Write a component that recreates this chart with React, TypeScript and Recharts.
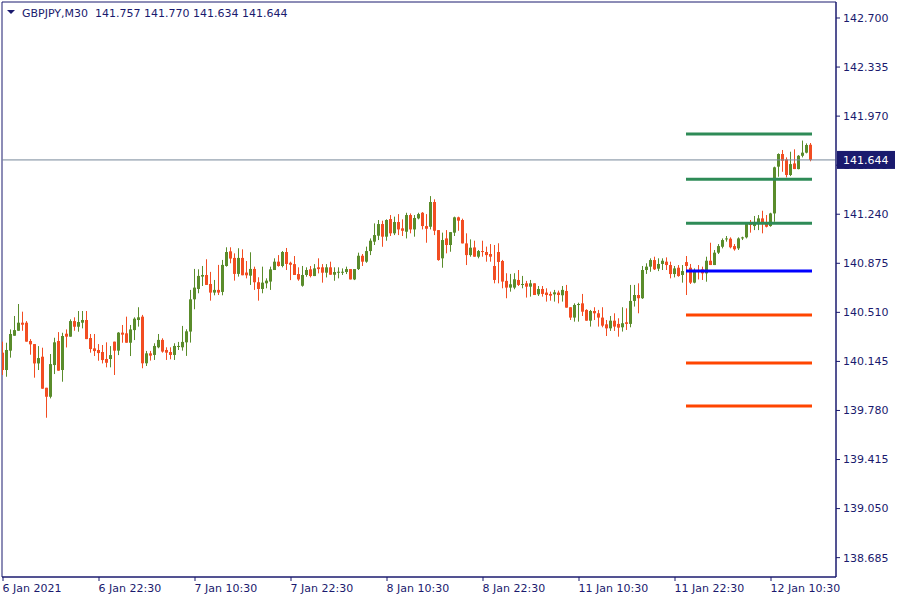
import React from 'react';
import { ComposedChart, Bar, XAxis, YAxis, ReferenceLine, ReferenceArea } from 'recharts';

// OHLC values of GBPJPY M30 candles (oldest first)
const opens = [
  140.210, 140.081, 140.225, 140.336, 140.373, 140.433, 140.433, 140.297, 140.274, 140.130,
  140.180, 139.949, 139.882, 140.118, 140.297, 140.081, 140.351, 140.329, 140.445, 140.403,
  140.433, 140.453, 140.319, 140.242, 140.230, 140.215, 140.163, 140.163, 140.292, 140.225,
  140.359, 140.354, 140.284, 140.378, 140.453, 140.478, 140.131, 140.205, 140.193, 140.250,
  140.305, 140.230, 140.215, 140.193, 140.255, 140.250, 140.287, 140.367, 140.607, 140.684,
  140.776, 140.788, 140.721, 140.657, 140.677, 140.662, 140.855, 140.964, 140.915, 140.796,
  140.915, 140.806, 140.783, 140.833, 140.734, 140.684, 140.726, 140.739, 140.825, 140.887,
  140.855, 140.959, 140.879, 140.869, 140.795, 140.708, 140.788, 140.830, 140.780, 140.845,
  140.845, 140.805, 140.845, 140.790, 140.810, 140.810, 140.810, 140.832, 140.755, 140.832,
  140.931, 140.887, 140.966, 141.036, 141.080, 141.167, 141.073, 141.204, 141.098, 141.182,
  141.135, 141.110, 141.234, 141.127, 141.209, 141.251, 141.152, 141.147, 141.331, 141.122,
  140.912, 141.060, 141.011, 141.103, 141.217, 141.197, 141.023, 140.936, 140.993, 140.924,
  140.966, 140.959, 140.944, 140.855, 140.959, 140.892, 140.744, 140.694, 140.694, 140.751,
  140.716, 140.726, 140.701, 140.726, 140.644, 140.684, 140.657, 140.647, 140.644, 140.657,
  140.637, 140.669, 140.548, 140.471, 140.565, 140.577, 140.528, 140.448, 140.520, 140.503,
  140.471, 140.421, 140.391, 140.448, 140.424, 140.399, 140.436, 140.424, 140.595, 140.639,
  140.615, 140.825, 140.850, 140.899, 140.835, 140.870, 140.887, 140.862, 140.795, 140.842,
  140.788, 140.884, 140.842, 140.731, 140.825, 140.830, 140.800, 140.894, 140.862, 140.954,
  140.998, 141.053, 141.058, 141.003, 140.986, 141.060, 141.068, 141.172, 141.152, 141.167,
  141.209, 141.172, 141.152, 141.246, 141.594, 141.688, 141.648, 141.532, 141.618, 141.576,
  141.675, 141.698, 141.757,
];
const highs = [
  140.292, 140.284, 140.383, 140.483, 140.572, 140.515, 140.445, 140.311, 140.274, 140.259,
  140.247, 139.949, 140.200, 140.321, 140.363, 140.358, 140.383, 140.458, 140.473, 140.520,
  140.520, 140.520, 140.349, 140.349, 140.274, 140.267, 140.287, 140.259, 140.292, 140.363,
  140.416, 140.478, 140.416, 140.473, 140.548, 140.491, 140.223, 140.223, 140.280, 140.349,
  140.317, 140.250, 140.250, 140.280, 140.290, 140.409, 140.384, 140.677, 140.833, 140.830,
  140.855, 140.905, 140.811, 140.751, 140.863, 140.900, 140.994, 140.994, 140.949, 140.987,
  140.979, 140.892, 140.957, 140.850, 140.771, 140.850, 140.763, 140.850, 140.912, 140.936,
  140.966, 140.989, 140.887, 140.929, 140.845, 140.855, 140.845, 140.855, 140.869, 140.912,
  140.869, 140.869, 140.887, 140.845, 140.845, 140.837, 140.850, 140.832, 140.832, 140.954,
  140.944, 140.999, 141.060, 141.172, 141.197, 141.192, 141.202, 141.234, 141.222, 141.241,
  141.202, 141.251, 141.246, 141.234, 141.251, 141.256, 141.241, 141.375, 141.351, 141.122,
  141.103, 141.122, 141.107, 141.222, 141.222, 141.207, 141.098, 141.053, 141.043, 140.974,
  141.043, 140.999, 141.018, 141.011, 141.024, 140.900, 140.801, 140.796, 140.801, 140.825,
  140.781, 140.744, 140.751, 140.726, 140.706, 140.706, 140.689, 140.664, 140.677, 140.672,
  140.706, 140.714, 140.548, 140.577, 140.582, 140.647, 140.533, 140.528, 140.548, 140.528,
  140.548, 140.453, 140.483, 140.503, 140.466, 140.548, 140.540, 140.714, 140.714, 140.726,
  140.855, 140.875, 140.912, 140.924, 140.912, 140.912, 140.919, 140.887, 140.855, 140.862,
  140.862, 140.929, 140.870, 140.837, 140.862, 140.850, 140.924, 141.028, 140.974, 141.018,
  141.060, 141.078, 141.068, 141.018, 141.068, 141.073, 141.177, 141.197, 141.227, 141.234,
  141.266, 141.234, 141.251, 141.594, 141.693, 141.718, 141.663, 141.705, 141.723, 141.680,
  141.788, 141.767, 141.770,
];
const lows = [
  140.044, 140.031, 140.173, 140.336, 140.373, 140.373, 140.292, 140.195, 140.024, 140.081,
  139.942, 139.726, 139.870, 140.051, 140.076, 139.994, 140.249, 140.329, 140.373, 140.366,
  140.391, 140.311, 140.210, 140.185, 140.150, 140.130, 140.101, 140.101, 140.044, 140.192,
  140.284, 140.284, 140.185, 140.304, 140.404, 140.094, 140.111, 140.151, 140.156, 140.243,
  140.210, 140.156, 140.161, 140.156, 140.230, 140.225, 140.186, 140.285, 140.533, 140.652,
  140.706, 140.714, 140.597, 140.637, 140.639, 140.637, 140.850, 140.875, 140.746, 140.776,
  140.786, 140.763, 140.714, 140.677, 140.597, 140.652, 140.689, 140.677, 140.825, 140.850,
  140.845, 140.825, 140.750, 140.788, 140.745, 140.701, 140.775, 140.770, 140.780, 140.800,
  140.731, 140.770, 140.790, 140.745, 140.763, 140.788, 140.795, 140.755, 140.750, 140.825,
  140.855, 140.879, 140.936, 141.011, 141.048, 140.998, 141.043, 141.078, 141.085, 141.085,
  141.078, 141.060, 141.098, 141.073, 141.202, 141.127, 141.028, 141.127, 141.085, 140.894,
  140.842, 140.949, 140.961, 141.078, 141.117, 141.023, 140.862, 140.924, 140.924, 140.912,
  140.924, 140.887, 140.887, 140.726, 140.726, 140.689, 140.615, 140.664, 140.682, 140.706,
  140.689, 140.620, 140.627, 140.639, 140.632, 140.627, 140.590, 140.597, 140.590, 140.577,
  140.590, 140.545, 140.453, 140.441, 140.441, 140.483, 140.448, 140.404, 140.453, 140.404,
  140.399, 140.334, 140.372, 140.372, 140.329, 140.367, 140.379, 140.399, 140.553, 140.503,
  140.610, 140.796, 140.812, 140.825, 140.817, 140.825, 140.825, 140.763, 140.770, 140.775,
  140.731, 140.639, 140.721, 140.726, 140.755, 140.751, 140.738, 140.862, 140.862, 140.944,
  140.986, 141.036, 140.986, 140.969, 140.974, 141.048, 141.060, 141.103, 141.122, 141.122,
  141.098, 141.142, 141.147, 141.184, 141.519, 141.556, 141.514, 141.524, 141.576, 141.574,
  141.663, 141.693, 141.634,
];
const closes = [
  140.081, 140.230, 140.349, 140.378, 140.433, 140.418, 140.292, 140.272, 140.130, 140.170,
  139.942, 139.882, 140.125, 140.287, 140.076, 140.334, 140.329, 140.445, 140.403, 140.438,
  140.453, 140.311, 140.237, 140.222, 140.207, 140.155, 140.135, 140.192, 140.225, 140.359,
  140.344, 140.284, 140.383, 140.463, 140.473, 140.131, 140.205, 140.188, 140.260, 140.305,
  140.218, 140.210, 140.193, 140.260, 140.260, 140.290, 140.369, 140.607, 140.694, 140.781,
  140.788, 140.714, 140.657, 140.677, 140.657, 140.863, 140.959, 140.910, 140.796, 140.915,
  140.786, 140.786, 140.833, 140.734, 140.684, 140.731, 140.746, 140.830, 140.887, 140.855,
  140.959, 140.870, 140.864, 140.788, 140.755, 140.788, 140.825, 140.780, 140.837, 140.832,
  140.805, 140.845, 140.790, 140.810, 140.812, 140.812, 140.832, 140.755, 140.832, 140.931,
  140.887, 140.966, 141.043, 141.085, 141.167, 141.073, 141.197, 141.098, 141.182, 141.127,
  141.117, 141.234, 141.127, 141.212, 141.241, 141.152, 141.132, 141.331, 141.117, 140.899,
  141.048, 141.011, 141.107, 141.217, 141.192, 141.023, 140.936, 140.991, 140.924, 140.966,
  140.959, 140.936, 140.924, 140.751, 140.885, 140.739, 140.694, 140.719, 140.756, 140.714,
  140.721, 140.701, 140.726, 140.639, 140.684, 140.647, 140.639, 140.634, 140.659, 140.639,
  140.677, 140.545, 140.471, 140.565, 140.572, 140.515, 140.448, 140.520, 140.503, 140.471,
  140.411, 140.391, 140.448, 140.404, 140.396, 140.429, 140.424, 140.595, 140.639, 140.615,
  140.825, 140.850, 140.899, 140.830, 140.870, 140.894, 140.862, 140.795, 140.837, 140.780,
  140.817, 140.855, 140.731, 140.825, 140.812, 140.800, 140.894, 140.862, 140.954, 141.003,
  141.048, 141.060, 140.994, 140.979, 141.060, 141.068, 141.172, 141.160, 141.172, 141.209,
  141.167, 141.147, 141.246, 141.589, 141.688, 141.638, 141.532, 141.613, 141.576, 141.675,
  141.698, 141.755, 141.644,
];

const xTickIndex = [0, 24, 48, 72, 96, 120, 144, 168, 192];
const xTickLabels = [
  '6 Jan 2021', '6 Jan 22:30', '7 Jan 10:30', '7 Jan 22:30', '8 Jan 10:30',
  '8 Jan 22:30', '11 Jan 10:30', '11 Jan 22:30', '12 Jan 10:30',
];
const yTicks = [142.7, 142.335, 141.97, 141.605, 141.24, 140.875, 140.51, 140.145, 139.78, 139.415, 139.05, 138.685];
const resistanceLevels = [141.837, 141.5, 141.173];
const pivotLevels = [140.818];
const supportLevels = [140.49, 140.133, 139.813];
const levelStart = 170.75;
const levelEnd = 202.25;
const lastPrice = 141.644;
const symbolTitle = 'GBPJPY,M30';
const titleValues = ['141.757', '141.770', '141.634', '141.644'];

const X_DOMAIN: [number, number] = [-0.25, 208.25];
const Y_DOMAIN: [number, number] = [138.541, 142.819];

const UP = '#5a8c2b';
const DOWN = '#f24d22';
const NAVY = '#1a1a6e';
const FONT = 'DejaVu Sans';
const MARGIN = { top: 2, right: 0, bottom: 0, left: 2 };

const data = opens.map((o, i) => ({
  i,
  open: o,
  high: highs[i],
  low: lows[i],
  close: closes[i],
  range: [lows[i], highs[i]],
}));

const Candle = (props: any) => {
  const { x, y, width, height, payload } = props;
  if (x == null || y == null || !payload) return null;
  const top = Math.min(y, y + height);
  const h = Math.abs(height);
  const { open, close, high, low } = payload;
  const span = high - low;
  const py = (p: number) => (span > 0 ? top + ((high - p) / span) * h : top);
  const color = close >= open ? UP : DOWN;
  const cx = Math.floor(x + width / 2);
  const bTop = py(Math.max(open, close));
  const bBot = py(Math.min(open, close));
  return (
    <g>
      <rect x={cx} y={top} width={1} height={Math.max(1, h)} fill={color} />
      <rect x={cx - 1} y={bTop} width={3} height={Math.max(1, bBot - bTop)} fill={color} />
    </g>
  );
};

const XTick = (props: any) => {
  const { x, y, payload } = props;
  const idx = xTickIndex.indexOf(payload.value);
  return (
    <text x={x - 0.5} y={y + 9} textAnchor="start" fill={NAVY} fontSize={11} fontFamily={FONT}>
      {idx >= 0 ? xTickLabels[idx] : ''}
    </text>
  );
};

const PriceTag = (props: any) => {
  const vb = props.viewBox || {};
  const yy = vb.y;
  const xr = vb.x + vb.width;
  if (yy == null || isNaN(xr)) return null;
  return (
    <g>
      <rect x={xr + 1} y={yy - 9} width={58} height={18} fill={NAVY} />
      <text x={xr + 7} y={yy + 4} fill="#ffffff" fontSize={11} fontFamily={FONT}>
        {lastPrice.toFixed(3)}
      </text>
    </g>
  );
};

const axesFor = (visible: boolean) => [
  <XAxis
    key="x"
    dataKey="i"
    type="number"
    domain={X_DOMAIN}
    allowDataOverflow
    ticks={xTickIndex}
    interval={0}
    height={23}
    tickSize={4}
    tick={visible ? <XTick /> : false}
    axisLine={visible ? { stroke: NAVY } : false}
    tickLine={visible ? { stroke: NAVY } : false}
  />,
  <YAxis
    key="y"
    orientation="right"
    type="number"
    domain={Y_DOMAIN}
    allowDataOverflow
    ticks={yTicks}
    interval={0}
    width={64}
    tickSize={4}
    tickMargin={3}
    tickFormatter={(v: number) => v.toFixed(3)}
    tick={visible ? { fill: NAVY, fontSize: 11, fontFamily: FONT, textAnchor: 'start' } : false}
    axisLine={visible ? { stroke: NAVY } : false}
    tickLine={visible ? { stroke: NAVY } : false}
  />,
];

export default function App() {
  return (
    <div style={{ position: 'absolute', left: 0, top: 0, width: 900, height: 600, background: '#ffffff' }}>
      <ComposedChart width={900} height={600} data={data} margin={MARGIN}>
        {axesFor(true)}
        <ReferenceArea
          x1={X_DOMAIN[0]}
          x2={X_DOMAIN[1]}
          y1={Y_DOMAIN[0]}
          y2={Y_DOMAIN[1]}
          fill="none"
          fillOpacity={0}
          stroke={NAVY}
          strokeWidth={1}
          ifOverflow="visible"
        />
        {resistanceLevels.map((lv) => (
          <ReferenceLine key={'r' + lv} segment={[{ x: levelStart, y: lv }, { x: levelEnd, y: lv }]} stroke="#2e8b57" strokeWidth={3} />
        ))}
        {pivotLevels.map((lv) => (
          <ReferenceLine key={'p' + lv} segment={[{ x: levelStart, y: lv }, { x: levelEnd, y: lv }]} stroke="#0000ff" strokeWidth={3} />
        ))}
        {supportLevels.map((lv) => (
          <ReferenceLine key={'s' + lv} segment={[{ x: levelStart, y: lv }, { x: levelEnd, y: lv }]} stroke="#ff4500" strokeWidth={3} />
        ))}
        <ReferenceLine y={lastPrice} stroke="#778899" strokeWidth={1} />
        <Bar dataKey="range" barSize={4} shape={<Candle />} isAnimationActive={false} />
      </ComposedChart>
      {/* overlay chart with identical scales, carrying the current-price tag above the price scale */}
      <div style={{ position: 'absolute', left: 0, top: 0, pointerEvents: 'none' }}>
        <ComposedChart width={900} height={600} data={data} margin={MARGIN}>
          {axesFor(false)}
          <ReferenceLine y={lastPrice} stroke="#778899" strokeOpacity={0} label={<PriceTag />} />
        </ComposedChart>
      </div>
      <svg width={320} height={24} style={{ position: 'absolute', left: 0, top: 0 }}>
        <polygon points="7,10 15,10 11,14" fill={NAVY} />
        <text x={22} y={17} fill={NAVY} fontSize={11} fontFamily={FONT} style={{ whiteSpace: 'pre' }}>
          {symbolTitle + '  ' + titleValues.join(' ')}
        </text>
      </svg>
    </div>
  );
}
